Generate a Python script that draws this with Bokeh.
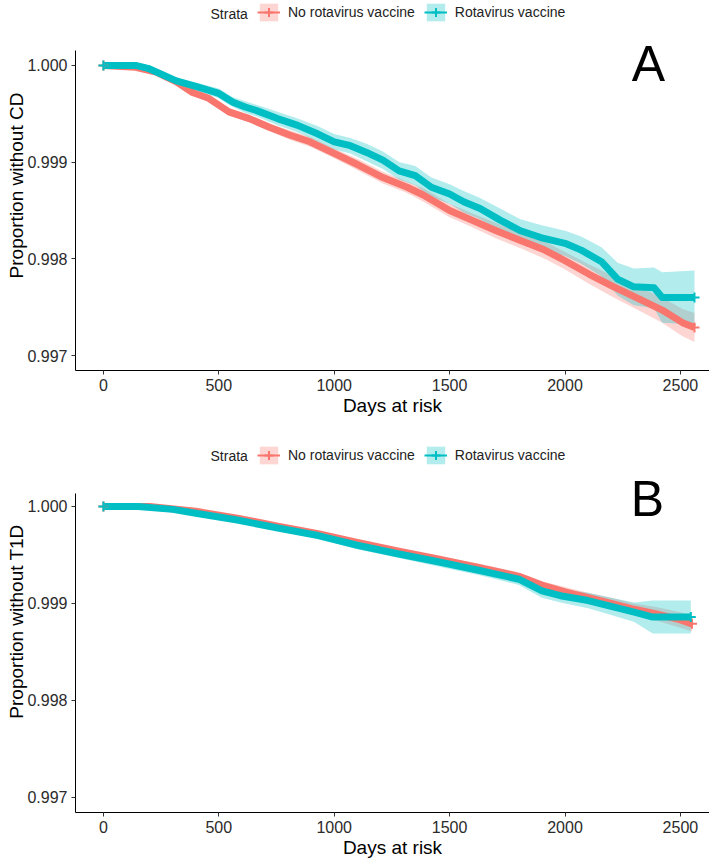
import numpy as np
from bokeh.plotting import figure
from bokeh.models import (Range1d, FixedTicker, PrintfTickFormatter, Legend,
                          LegendItem, Label)
from bokeh.layouts import column
from bokeh.embed import file_html
from bokeh.resources import INLINE

RED = "#F8766D"
CYAN = "#00BFC4"
FONT = "Liberation Sans"

strata = ["No rotavirus vaccine", "Rotavirus vaccine"]
x_ticks = [0, 500, 1000, 1500, 2000, 2500]
y_ticks = [0.997, 0.998, 0.999, 1.000]

# ---------------- Panel A : coeliac disease ----------------
a_no_days = [0, 140, 228, 316, 386, 456, 544, 632, 719, 807, 895, 1000, 1105, 1211,
             1316, 1386, 1500, 1596, 1702, 1807, 1912, 2000, 2105, 2211, 2316, 2421,
             2509, 2561]
a_no_surv = [1.0, 0.99998, 0.99993, 0.99983, 0.99972, 0.99966, 0.99952, 0.99945,
             0.99936, 0.99928, 0.99921, 0.99909, 0.99897, 0.99884, 0.99874, 0.99866,
             0.9985, 0.9984, 0.99829, 0.99819, 0.99809, 0.99798, 0.99784, 0.99771,
             0.99759, 0.99747, 0.99734, 0.99729]
a_no_upper = [1.0, 0.99999, 0.99995, 0.99985, 0.99975, 0.99969, 0.99956, 0.99949,
              0.9994, 0.99933, 0.99926, 0.99914, 0.99903, 0.9989, 0.9988, 0.99873,
              0.99857, 0.99847, 0.99837, 0.99827, 0.99818, 0.99807, 0.99794, 0.99782,
              0.99771, 0.9976, 0.99748, 0.99744]
a_no_lower = [1.0, 0.99997, 0.99991, 0.99981, 0.99969, 0.99963, 0.99948, 0.99941,
              0.99932, 0.99923, 0.99916, 0.99904, 0.99891, 0.99878, 0.99868, 0.99859,
              0.99843, 0.99833, 0.99821, 0.99811, 0.998, 0.99789, 0.99774, 0.9976,
              0.99747, 0.99734, 0.9972, 0.99714]

a_rv_days = [0, 140, 193, 316, 404, 500, 561, 614, 667, 754, 842, 930, 1000, 1070, 1140,
             1211, 1281, 1351, 1421, 1500, 1561, 1632, 1719, 1807, 1895, 2000, 2070,
             2158, 2228, 2298, 2386, 2421, 2561]
a_rv_surv = [1.0, 1.0, 0.99997, 0.99984, 0.99978, 0.99971, 0.99962, 0.99957, 0.99953,
             0.99945, 0.99938, 0.99929, 0.99921, 0.99917, 0.9991, 0.99902, 0.99891,
             0.99886, 0.99874, 0.99867, 0.99859, 0.99852, 0.9984, 0.99829, 0.99822,
             0.99816, 0.99809, 0.99797, 0.99779, 0.99771, 0.9977, 0.9976, 0.9976]
a_rv_upper = [1.0, 1.0, 0.99998, 0.99987, 0.99982, 0.99976, 0.99967, 0.99963, 0.99959,
              0.99952, 0.99945, 0.99937, 0.99929, 0.99925, 0.99919, 0.99911, 0.999,
              0.99896, 0.99884, 0.99877, 0.9987, 0.99863, 0.99852, 0.99841, 0.99835,
              0.99829, 0.99823, 0.99812, 0.99796, 0.9979, 0.99791, 0.99786, 0.99788]
a_rv_lower = [1.0, 0.99999, 0.99996, 0.99981, 0.99974, 0.99966, 0.99957, 0.99951,
              0.99947, 0.99938, 0.99931, 0.99921, 0.99913, 0.99909, 0.99901, 0.99893,
              0.99882, 0.99876, 0.99864, 0.99857, 0.99848, 0.99841, 0.99828, 0.99817,
              0.99809, 0.99803, 0.99795, 0.99782, 0.99762, 0.99752, 0.99749, 0.99734,
              0.99732]

# ---------------- Panel B : type 1 diabetes ----------------
b_no_days = [0, 200, 400, 580, 750, 930, 1100, 1280, 1450, 1630, 1800, 1900, 2000,
             2100, 2200, 2300, 2400, 2500, 2550]
b_no_surv = [1.0, 1.0, 0.99995, 0.99988, 0.9998, 0.99972, 0.99963, 0.99954, 0.99946,
             0.99937, 0.99928, 0.99919, 0.99912, 0.99906, 0.999, 0.99894, 0.99889,
             0.99883, 0.99879]
b_no_upper = [1.0, 1.0, 0.99996, 0.9999, 0.99982, 0.99974, 0.99966, 0.99957, 0.99949,
              0.99941, 0.99932, 0.99923, 0.99917, 0.99911, 0.99906, 0.999, 0.99896,
              0.99891, 0.99887]
b_no_lower = [1.0, 1.0, 0.99994, 0.99986, 0.99978, 0.9997, 0.9996, 0.99951, 0.99943,
              0.99933, 0.99924, 0.99915, 0.99907, 0.99901, 0.99894, 0.99888, 0.99882,
              0.99875, 0.99871]

b_rv_days = [0, 150, 300, 400, 580, 750, 930, 1100, 1280, 1450, 1630, 1800, 1900, 1980,
             2100, 2200, 2300, 2380, 2545]
b_rv_surv = [1.0, 1.0, 0.99997, 0.99993, 0.99986, 0.99978, 0.9997, 0.9996, 0.99951,
             0.99943, 0.99934, 0.99925, 0.99913, 0.99908, 0.99903, 0.99897, 0.99891,
             0.99886, 0.99886]
b_rv_upper = [1.0, 1.0, 0.99998, 0.99995, 0.99988, 0.99981, 0.99973, 0.99964, 0.99955,
              0.99948, 0.99939, 0.99931, 0.9992, 0.99915, 0.99911, 0.99906, 0.99901,
              0.99903, 0.99903]
b_rv_lower = [1.0, 1.0, 0.99996, 0.99991, 0.99984, 0.99975, 0.99967, 0.99956, 0.99947,
              0.99938, 0.99929, 0.99919, 0.99906, 0.99901, 0.99895, 0.99888, 0.99881,
              0.99869, 0.99869]


def make_panel(letter, ylabel, series, height, frame_h, y_range, axis_top,
               legend_bottom, strata_y, letter_x, letter_y):
    p = figure(width=709, height=height,
               min_border_left=75, min_border_right=0,
               min_border_top=0, min_border_bottom=height - frame_h,
               x_range=Range1d(-121, 2626), y_range=Range1d(*y_range),
               output_backend="svg", toolbar_location=None)
    p.background_fill_color = "white"
    p.border_fill_color = "white"
    p.outline_line_color = None
    p.xgrid.visible = False
    p.ygrid.visible = False

    colors = [RED, CYAN]
    # confidence bands
    for (d, s, lo, up), col in zip(series, colors):
        p.varea(x=d, y1=lo, y2=up, fill_color=col, fill_alpha=0.3)
    # survival curves (thick because of the dense censor marks)
    for (d, s, lo, up), col in zip(series, colors):
        p.line(x=d, y=s, line_color=col, line_width=7, line_join="round")
    for (d, s, lo, up), col in zip(series, colors):
        p.scatter(x=[d[0], d[-1]], y=[s[0], s[-1]], marker="cross", size=10,
                  line_color=col, line_width=2)

    # axes
    for ax in (p.xaxis[0], p.yaxis[0]):
        ax.axis_line_color = "black"
        ax.axis_line_width = 1
        ax.major_tick_line_color = "#333333"
        ax.major_tick_in = 0
        ax.major_tick_out = 4
        ax.minor_tick_line_color = None
        ax.major_label_text_font = FONT
        ax.major_label_text_font_size = "16px"
        ax.major_label_text_color = "#2b2b2b"
        ax.axis_label_text_font = FONT
        ax.axis_label_text_font_size = "19px"
        ax.axis_label_text_font_style = "normal"
        ax.axis_label_text_color = "black"
    p.xaxis.major_label_standoff = 4
    p.xaxis.axis_label_standoff = 1
    p.yaxis.major_label_standoff = 4
    p.yaxis.axis_label_standoff = -3
    p.yaxis.bounds = (y_range[0], axis_top)
    p.xaxis.ticker = FixedTicker(ticks=x_ticks)
    p.yaxis.ticker = FixedTicker(ticks=y_ticks)
    p.yaxis.formatter = PrintfTickFormatter(format="%.3f")
    p.xaxis.axis_label = "Days at risk"
    p.yaxis.axis_label = ylabel

    # legend (drawn inside the tall frame, above the axis extent)
    items = []
    for name, col in zip(strata, colors):
        nan = [np.nan]
        rb = p.varea(x=nan, y1=nan, y2=nan, fill_color=col, fill_alpha=0.3)
        rl = p.line(x=nan, y=nan, line_color=col, line_width=2)
        rm = p.scatter(x=nan, y=nan, marker="cross", size=10, line_color=col,
                       line_width=2)
        items.append(LegendItem(label=name, renderers=[rb, rl, rm]))
    leg = Legend(items=items, orientation="horizontal",
                 location=(182, legend_bottom),
                 label_text_font=FONT, label_text_font_size="14px",
                 label_text_color="#222222",
                 glyph_width=23, glyph_height=22, label_height=22,
                 label_standoff=8, spacing=9, padding=0, margin=0,
                 border_line_alpha=0, background_fill_alpha=0)
    p.add_layout(leg)
    p.add_layout(Label(x=135, y=strata_y, x_units="screen", y_units="screen",
                       text="Strata", text_font=FONT, text_font_size="14px",
                       text_color="#222222", text_baseline="middle"))
    p.add_layout(Label(x=letter_x, y=letter_y, x_units="screen", y_units="screen",
                       text=letter, text_font=FONT, text_font_size="50px",
                       text_color="black", text_align="center",
                       text_baseline="middle"))
    return p


# Panel A occupies page rows 0..430, frame 0..370 (axis drawn 50..370)
pA = make_panel("A", "Proportion without CD",
                [(a_no_days, a_no_surv, a_no_lower, a_no_upper),
                 (a_rv_days, a_rv_surv, a_rv_lower, a_rv_upper)],
                height=430, frame_h=370,
                y_range=(0.996845, 0.996845 + 370 / 96700.0), axis_top=1.000155,
                legend_bottom=347, strata_y=357, letter_x=573, letter_y=307)
# Panel B occupies page rows 430..861, frame 430..812 (axis drawn 493..812)
pB = make_panel("B", "Proportion without T1D",
                [(b_no_days, b_no_surv, b_no_lower, b_no_upper),
                 (b_rv_days, b_rv_surv, b_rv_lower, b_rv_upper)],
                height=431, frame_h=382,
                y_range=(0.996845, 0.996845 + 382 / 97000.0), axis_top=1.000134,
                legend_bottom=346, strata_y=357, letter_x=572, letter_y=314)

layout = column(pA, pB, spacing=0)
open("out.html", "w").write(file_html(layout, INLINE))
